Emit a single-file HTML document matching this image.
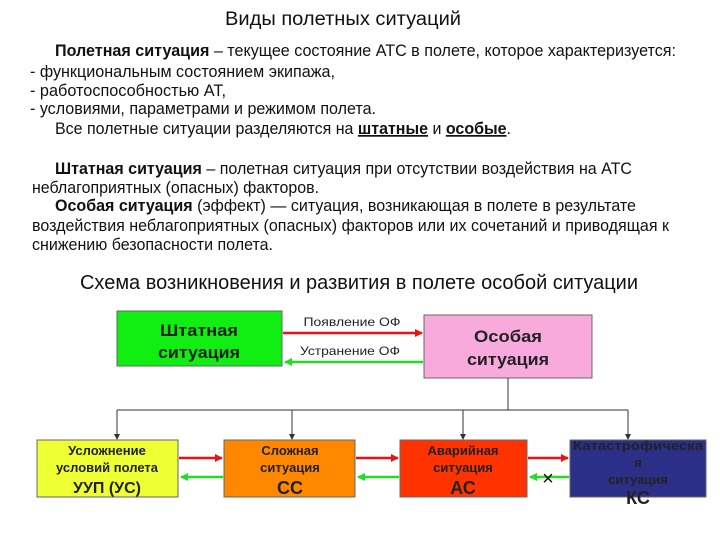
<!DOCTYPE html>
<html><head><meta charset="utf-8"><style>
html,body{margin:0;padding:0;background:#fff;}
svg{display:block;font-family:"Liberation Sans",sans-serif;}
</style></head><body>
<svg width="720" height="540" viewBox="0 0 720 540" xmlns="http://www.w3.org/2000/svg">
<defs>
<marker id="ar" markerWidth="8" markerHeight="8" refX="7" refY="4" orient="auto" markerUnits="userSpaceOnUse"><path d="M0,0 L8,4 L0,8z" fill="#ee1111"/></marker>
<marker id="ag" markerWidth="8" markerHeight="8" refX="7" refY="4" orient="auto" markerUnits="userSpaceOnUse"><path d="M0,0 L8,4 L0,8z" fill="#22dd22"/></marker>
<marker id="ak" markerWidth="6" markerHeight="6" refX="5" refY="3" orient="auto" markerUnits="userSpaceOnUse"><path d="M0,0 L6,3 L0,6z" fill="#333"/></marker>
</defs>
<g fill="#111" font-size="17">
<text x="225" y="25" font-size="19" textLength="236" lengthAdjust="spacingAndGlyphs">Виды полетных ситуаций</text>
<text x="55" y="56" textLength="621" lengthAdjust="spacingAndGlyphs"><tspan font-weight="bold">Полетная ситуация</tspan> – текущее состояние АТС в полете, которое  характеризуется:</text>
<text x="30" y="77" textLength="305" lengthAdjust="spacingAndGlyphs">- функциональным состоянием экипажа,</text>
<text x="30" y="96" textLength="196" lengthAdjust="spacingAndGlyphs">- работоспособностью АТ,</text>
<text x="30" y="114" textLength="346" lengthAdjust="spacingAndGlyphs">- условиями, параметрами и режимом полета.</text>
<text x="55" y="134" textLength="456" lengthAdjust="spacingAndGlyphs">Все полетные ситуации разделяются на <tspan font-weight="bold" text-decoration="underline">штатные</tspan> и <tspan font-weight="bold" text-decoration="underline">особые</tspan>.</text>
<text x="55" y="174" textLength="577" lengthAdjust="spacingAndGlyphs"><tspan font-weight="bold">Штатная ситуация</tspan> – полетная ситуация при отсутствии воздействия на АТС</text>
<text x="32" y="193" textLength="287" lengthAdjust="spacingAndGlyphs">неблагоприятных (опасных) факторов.</text>
<text x="55" y="211" textLength="581" lengthAdjust="spacingAndGlyphs"><tspan font-weight="bold">Особая ситуация</tspan> (эффект) — ситуация, возникающая в полете в результате</text>
<text x="32" y="231" textLength="637" lengthAdjust="spacingAndGlyphs">воздействия неблагоприятных (опасных) факторов или их сочетаний и приводящая к</text>
<text x="32" y="250" textLength="241" lengthAdjust="spacingAndGlyphs">снижению безопасности полета.</text>
<text x="80" y="289" font-size="20" textLength="558" lengthAdjust="spacingAndGlyphs">Схема возникновения и развития в полете особой ситуации</text>
</g>
<!-- top boxes -->
<rect x="117" y="311" width="165" height="55" fill="#11ee11" stroke="#666" stroke-width="1"/>
<text x="199" y="336" text-anchor="middle" font-size="17" font-weight="bold" fill="#222" textLength="78" lengthAdjust="spacingAndGlyphs">Штатная</text>
<text x="199" y="358" text-anchor="middle" font-size="17" font-weight="bold" fill="#222" textLength="82" lengthAdjust="spacingAndGlyphs">ситуация</text>
<rect x="424" y="315" width="168" height="63" fill="#f9aadd" stroke="#666" stroke-width="1"/>
<text x="508" y="342" text-anchor="middle" font-size="17" font-weight="bold" fill="#222" textLength="68" lengthAdjust="spacingAndGlyphs">Особая</text>
<text x="508" y="365" text-anchor="middle" font-size="17" font-weight="bold" fill="#222" textLength="82" lengthAdjust="spacingAndGlyphs">ситуация</text>
<line x1="283" y1="333" x2="422" y2="333" stroke="#ee1111" stroke-width="2.5" marker-end="url(#ar)"/>
<line x1="423" y1="362" x2="285" y2="362" stroke="#22dd22" stroke-width="2.5" marker-end="url(#ag)"/>
<text x="352" y="326" text-anchor="middle" font-size="12" fill="#222" textLength="97" lengthAdjust="spacingAndGlyphs">Появление ОФ</text>
<text x="350" y="355" text-anchor="middle" font-size="12" fill="#222" textLength="100" lengthAdjust="spacingAndGlyphs">Устранение ОФ</text>
<!-- connectors -->
<g stroke="#333" stroke-width="1" fill="none">
<line x1="508" y1="378" x2="508" y2="410"/>
<line x1="117" y1="410" x2="628" y2="410"/>
<line x1="117" y1="410" x2="117" y2="439" marker-end="url(#ak)"/>
<line x1="292" y1="410" x2="292" y2="439" marker-end="url(#ak)"/>
<line x1="463" y1="410" x2="463" y2="439" marker-end="url(#ak)"/>
<line x1="628" y1="410" x2="628" y2="439" marker-end="url(#ak)"/>
</g>
<!-- bottom boxes -->
<rect x="37" y="440" width="141" height="57" fill="#eeff33" stroke="#666"/>
<g font-size="13" font-weight="bold" fill="#222" text-anchor="middle">
<text x="107" y="455">Усложнение</text>
<text x="107" y="472">условий полета</text>
<text x="107" y="493" font-size="16">УУП (УС)</text>
</g>
<rect x="224" y="440" width="131" height="57" fill="#ff8800" stroke="#666"/>
<g font-size="13" font-weight="bold" fill="#222" text-anchor="middle">
<text x="290" y="455">Сложная</text>
<text x="290" y="472">ситуация</text>
<text x="290" y="494" font-size="18">СС</text>
</g>
<rect x="400" y="440" width="127" height="57" fill="#ff3300" stroke="#666"/>
<g font-size="13" font-weight="bold" fill="#222" text-anchor="middle">
<text x="463" y="455">Аварийная</text>
<text x="463" y="472">ситуация</text>
<text x="463" y="494" font-size="18">АС</text>
</g>
<rect x="570" y="440" width="136" height="57" fill="#2b2f88" stroke="#666"/>
<g font-size="13" font-weight="bold" fill="#222" text-anchor="middle">
<text x="638" y="450" textLength="130" lengthAdjust="spacingAndGlyphs">Катастрофическа</text>
<text x="638" y="467">я</text>
<text x="638" y="484">ситуация</text>
<text x="638" y="504" font-size="18">КС</text>
</g>
<!-- bottom arrows -->
<line x1="179" y1="458" x2="222" y2="458" stroke="#ee1111" stroke-width="2.5" marker-end="url(#ar)"/>
<line x1="223" y1="477" x2="181" y2="477" stroke="#22dd22" stroke-width="2.5" marker-end="url(#ag)"/>
<line x1="356" y1="458" x2="398" y2="458" stroke="#ee1111" stroke-width="2.5" marker-end="url(#ar)"/>
<line x1="399" y1="477" x2="358" y2="477" stroke="#22dd22" stroke-width="2.5" marker-end="url(#ag)"/>
<line x1="528" y1="458" x2="568" y2="458" stroke="#ee1111" stroke-width="2.5" marker-end="url(#ar)"/>
<line x1="569" y1="477" x2="530" y2="477" stroke="#22dd22" stroke-width="2.5" marker-end="url(#ag)"/>
<text x="548" y="485" text-anchor="middle" font-size="20" fill="#111">×</text>
</svg>
</body></html>
